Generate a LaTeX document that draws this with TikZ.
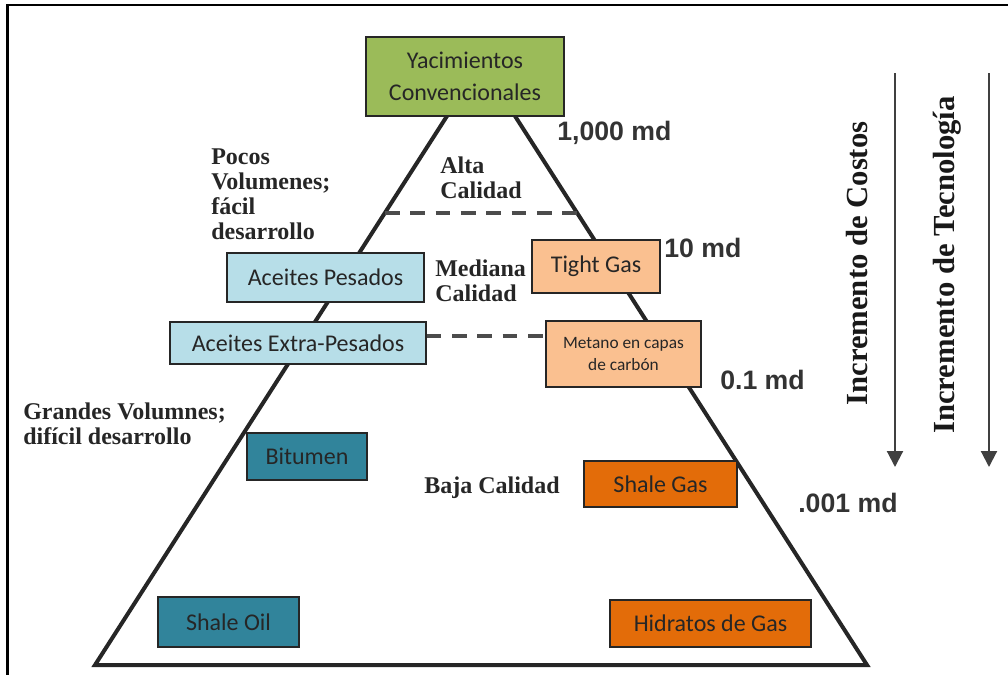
\documentclass[tikz,border=0pt]{standalone}
\usepackage{fontspec}
\setmainfont{Liberation Serif}
\newfontfamily\calibri{Carlito}
\newfontfamily\arialfont{Liberation Sans}
\usetikzlibrary{arrows.meta,calc}

\definecolor{yacgreen}{HTML}{9BBB59}
\definecolor{pesblue}{HTML}{B7DEE8}
\definecolor{gaspeach}{HTML}{FAC090}
\definecolor{oilteal}{HTML}{31849B}
\definecolor{gasorange}{HTML}{E36C09}

\begin{document}
\begin{tikzpicture}[x=0.75pt,y=-0.75pt,
  box/.style={draw=black!85, line width=1.1pt, inner sep=0pt, align=center,
    font=\calibri\fontsize{18}{24}\selectfont, text=black!85},
  lbl/.style={inner sep=0pt, align=left, font=\bfseries\fontsize{18}{18.75}\selectfont, text=black!85},
  perm/.style={inner sep=0pt, anchor=west, font=\arialfont\bfseries\fontsize{20}{24}\selectfont, text=black!80},
  dashline/.style={line width=2.6pt, dash pattern=on 11pt off 8pt, black!70},
  side/.style={line width=3pt, black!85},
  incr/.style={-{Triangle[width=12pt,length=12pt]}, line width=1.6pt, black!75},
  incrtext/.style={rotate=90, inner sep=0pt, font=\bfseries\fontsize{23}{24}\selectfont, text=black!90}]

  \useasboundingbox (0,0) rectangle (1008,675);

  % Frame
  \draw[line width=2pt] (1008,5) -- (7.5,5) -- (7.5,675);

  % Pyramid
  \coordinate (apex) at (481,63);
  \coordinate (bl) at (95,665);
  \coordinate (br) at (867,665);
  \draw[side] (apex) -- (bl) -- (br) -- cycle;

  % Quality limits
  \draw[dashline] ($(apex)!0.249!(bl)$) -- ($(apex)!0.249!(br)$);

  % Reservoir boxes
  \node[box, fill=yacgreen, minimum width=148.5pt, minimum height=59.25pt] (yac) at (465,76.5) {Yacimientos\\Convencionales};
  \node[box, fill=pesblue, minimum width=147.75pt, minimum height=36.75pt] (pesados) at (325.5,277.5) {Aceites Pesados};
  \node[box, fill=gaspeach, minimum width=96pt, minimum height=39.75pt] (tight) at (596,266.5) {Tight Gas};
  \node[box, fill=pesblue, minimum width=192pt, minimum height=31.5pt] (extra) at (298,343) {Aceites Extra-Pesados};
  \node[box, fill=gaspeach, minimum width=116.25pt, minimum height=49.5pt,
    font=\calibri\fontsize{13}{16.5}\selectfont] (metano) at (623.5,354) {Metano en capas\\de carbón};
  \node[box, fill=oilteal, minimum width=90pt, minimum height=35.25pt] (bitumen) at (307,456.5) {Bitumen};
  \node[box, fill=oilteal, minimum width=105.75pt, minimum height=37.5pt] (shaleoil) at (228.5,622) {Shale Oil};
  \node[box, fill=gasorange, minimum width=114.75pt, minimum height=34.5pt] (shalegas) at (660.5,484) {Shale Gas};
  \node[box, fill=gasorange, minimum width=150.75pt, minimum height=35.25pt] (hidratos) at (710.5,623.5) {Hidratos de Gas};

  \coordinate (q2) at (0,336);
  \draw[dashline] (extra.east |- q2) -- (metano.west |- q2);

  % Labels
  \node[lbl, anchor=north west] (pocos) at (211,149) {Pocos\\Volumenes;\\fácil\\desarrollo};
  \node[lbl, anchor=north west] (alta) at (440,157) {Alta\\Calidad};
  \node[lbl, anchor=north west] (mediana) at (435,260) {Mediana\\Calidad};
  \node[lbl, anchor=north west] (grandes) at (23,403) {Grandes Volumnes;\\difícil desarrollo};
  \node[lbl, anchor=west] (baja) at (424,488) {Baja Calidad};

  % Permeability
  \node[perm] (k1) at (557,133) {1,000 md};
  \node[perm] (k2) at (664,248) {10 md};
  \node[perm] (k3) at (720,380) {0.1 md};
  \node[perm] (k4) at (798,503) {.001 md};

  % Increments
  \coordinate (costtop) at (895,73);
  \coordinate (costbot) at (895,467);
  \coordinate (tectop) at (989,73);
  \coordinate (tecbot) at (989,467);
  \draw[incr] (costtop) -- (costbot);
  \draw[incr] (tectop) -- (tecbot);
  \node[incrtext] (costos) at (857,263.5) {Incremento de Costos};
  \node[incrtext] (tecno) at (947,265) {Incremento de Tecnología};

\end{tikzpicture}
\end{document}
